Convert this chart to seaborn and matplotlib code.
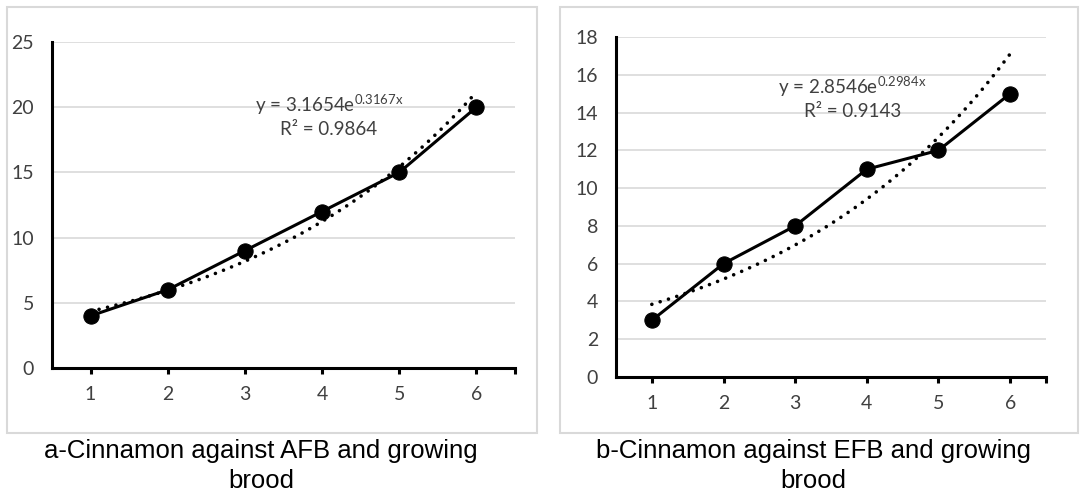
import numpy as np
import pandas as pd
import matplotlib
matplotlib.use("Agg")
import matplotlib.pyplot as plt
from matplotlib.patches import Rectangle
import seaborn as sns

# ---- data ----
x_vals = [1, 2, 3, 4, 5, 6]
afb_vals = [4, 6, 9, 12, 15, 20]
efb_vals = [3, 6, 8, 11, 12, 15]
caption_a = "a-Cinnamon against AFB and growing\nbrood"
caption_b = "b-Cinnamon against EFB and growing\nbrood"
yticks_a = [0, 5, 10, 15, 20, 25]
yticks_b = [0, 2, 4, 6, 8, 10, 12, 14, 16, 18]

sns.set_theme(style="white")
plt.rcParams['font.family'] = ['Lato', 'DejaVu Sans']

W, H = 1083, 494
fig = plt.figure(figsize=(W / 100, H / 100), dpi=100)

def fx(px):
    return px / W

def fy(py):
    return 1 - py / H

# panel boxes
for (x0, y0, x1, y1) in [(7, 7, 537, 433), (560, 7, 1078, 433)]:
    fig.patches.append(Rectangle((fx(x0), fy(y1)), fx(x1) - fx(x0), fy(y0) - fy(y1),
                                 transform=fig.transFigure, fill=False,
                                 edgecolor="#d9d9d9", linewidth=1.5))

axa = fig.add_axes([fx(52), fy(368), fx(515) - fx(52), fy(42) - fy(368)])
axb = fig.add_axes([fx(616), fy(377), fx(1046) - fx(616), fy(37) - fy(377)])

def draw(ax, xs, ys, yticks, ymax, eq_pos, r2_pos):
    df = pd.DataFrame({"x": xs, "y": ys})
    b, loga = np.polyfit(np.array(xs, float), np.log(np.array(ys, float)), 1)
    a = np.exp(loga)
    pred = a * np.exp(b * np.array(xs, float))
    ss_res = np.sum((np.log(ys) - np.log(pred)) ** 2)
    ss_tot = np.sum((np.log(ys) - np.mean(np.log(ys))) ** 2)
    r2 = 1 - ss_res / ss_tot
    xf = np.linspace(min(xs), max(xs), 200)
    trend = pd.DataFrame({"x": xf, "y": a * np.exp(b * xf)})

    sns.lineplot(data=trend, x="x", y="y", ax=ax, color="black", linewidth=2.6)
    tl = ax.get_lines()[-1]
    tl.set_linestyle((0, (0.01, 2.4)))
    tl.set_dash_capstyle("round")
    sns.lineplot(data=df, x="x", y="y", ax=ax, color="black", linewidth=2.2,
                 marker="o", markersize=11, markeredgecolor="black")

    ax.set_xlim(0.5, 6.5)
    ax.set_ylim(0, ymax)
    ax.set_yticks(yticks)
    ax.set_xticks(xs)
    ax.set_xticks([6.5], minor=True)
    ax.set_xlabel("")
    ax.set_ylabel("")
    ax.grid(axis="y", color="#d9d9d9", linewidth=1.2)
    ax.grid(axis="x", visible=False)
    ax.set_axisbelow(True)
    for s in ["top", "right"]:
        ax.spines[s].set_visible(False)
    for s in ["left", "bottom"]:
        ax.spines[s].set_color("black")
        ax.spines[s].set_linewidth(2.2)
    ax.tick_params(axis="x", which="both", direction="out", length=4, width=2.2,
                   color="black", bottom=True, labelsize=14, labelcolor="#404040", pad=9)
    ax.tick_params(axis="y", length=0, labelsize=14, labelcolor="#404040", pad=13)
    ax.set_facecolor("white")

    ax.text(eq_pos[0], eq_pos[1], "y = %.4fe$^{\\mathregular{%.4fx}}$" % (a, b),
            ha="center", va="center", fontsize=13.5, color="#404040")
    ax.text(r2_pos[0], r2_pos[1], "R² = %.4f" % r2,
            ha="center", va="center", fontsize=13.5, color="#404040")

draw(axa, x_vals, afb_vals, yticks_a, 25, (4.09, 20.2), (4.09, 18.3))
draw(axb, x_vals, efb_vals, yticks_b, 18, (3.8, 15.4), (3.8, 14.05))

fig.text(fx(261), fy(466), caption_a, ha="center", va="center", fontsize=18.5,
         family=["Liberation Sans", "DejaVu Sans"], color="black", linespacing=1.28)
fig.text(fx(813), fy(466), caption_b, ha="center", va="center", fontsize=18.5,
         family=["Liberation Sans", "DejaVu Sans"], color="black", linespacing=1.28)

fig.savefig("out.png", dpi=100, facecolor="white")
